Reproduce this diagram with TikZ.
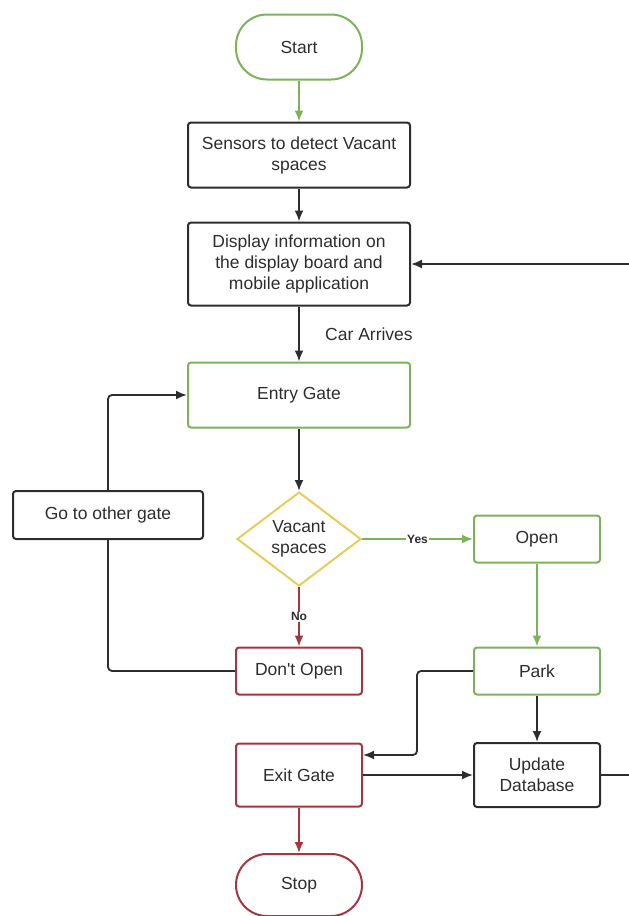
\documentclass[tikz,border=0pt]{standalone}
\usepackage{fontspec}
\setmainfont{Liberation Sans}
\usetikzlibrary{shapes.geometric,arrows.meta}

\definecolor{flowgreen}{RGB}{125,178,88}
\definecolor{flowred}{RGB}{168,52,62}
\definecolor{flowyellow}{RGB}{232,204,90}
\definecolor{flowdark}{RGB}{45,45,45}

\begin{document}
\begin{tikzpicture}[x=1pt,y=-1pt,->,>={Latex[length=11pt,width=9pt]},line width=1.8pt,draw=flowdark,
  text=flowdark,font=\fontsize{17.5}{21}\selectfont,
  box/.style={rectangle,rounded corners=3pt,draw=flowdark,line width=2pt,
    align=center,minimum width=222pt,minimum height=65pt,inner sep=2pt},
  small box/.style={box,minimum width=126pt,minimum height=47pt},
  terminal/.style={box,rounded corners=31pt,minimum width=126pt,minimum height=65pt},
  decision/.style={diamond,draw=flowyellow,line width=2pt,align=center,
    minimum width=124pt,minimum height=94pt,inner sep=0pt},
  answer/.style={fill=white,inner sep=1pt,text=flowdark,font=\fontsize{12}{14}\selectfont\bfseries}]

  \useasboundingbox (0,0) rectangle (629,916);

  \node[terminal,draw=flowgreen] (start) at (299,47) {Start};
  \node[box] (sensors) at (299,155) {Sensors to detect Vacant\\spaces};
  \node[box,minimum height=83pt] (display) at (299,264) {Display information on\\the display board and\\mobile application};
  \node[box,draw=flowgreen] (entry) at (299,395) {Entry Gate};
  \node[decision] (vacant) at (299,539) {Vacant\\spaces};
  \node[box,minimum width=190pt,minimum height=48pt] (othergate) at (108,515) {Go to other gate};
  \node[small box,draw=flowgreen] (open) at (537,539) {Open};
  \node[small box,draw=flowred] (dontopen) at (299,671) {Don\textquotesingle t Open};
  \node[small box,draw=flowgreen] (park) at (537,671) {Park};
  \node[small box,draw=flowred,minimum height=63pt] (exit) at (299,775) {Exit Gate};
  \node[small box,minimum height=64pt] (database) at (537,775) {Update\\Database};
  \node[terminal,draw=flowred,minimum height=62pt] (stop) at (299,885) {Stop};

  \coordinate (dbout) at (629,775);
  \coordinate (dispin) at (629,264);

  \draw[flowgreen] (start) -- (sensors);
  \draw (sensors) -- (display);
  \draw (display) -- node[right,xshift=22pt] {Car Arrives} (entry);
  \draw (entry) -- (vacant);
  \draw[flowgreen] (vacant) -- node[answer] {Yes} (open);
  \draw[flowred] (vacant) -- node[answer] {No} (dontopen);
  \draw[-,rounded corners=4pt] (dontopen.west) -| (othergate.south);
  \draw[rounded corners=4pt] (othergate.north) |- (entry.west);
  \draw[flowgreen] (open) -- (park);
  \draw (park) -- (database);
  \draw[rounded corners=4pt] (park.west) -- ++(-56,0) |- ([yshift=20pt]exit.east);
  \draw (exit) -- (database);
  \draw[flowred] (exit) -- (stop);
  % loop back to the display board, runs off the page edge
  \draw[-] (database.east) -- (dbout);
  \draw (dispin) -- (display.east);
\end{tikzpicture}
\end{document}
